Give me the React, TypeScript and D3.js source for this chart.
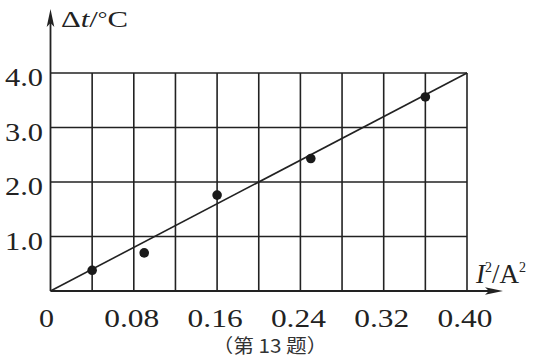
import React from "react";
import * as d3 from "d3";

const xTickValues = [0, 0.08, 0.16, 0.24, 0.32, 0.4];
const xTickLabels = ["0", "0.08", "0.16", "0.24", "0.32", "0.40"];
const yTickValues = [1.0, 2.0, 3.0, 4.0];
const yTickLabels = ["1.0", "2.0", "3.0", "4.0"];
const gridXValues = [0.04, 0.08, 0.12, 0.16, 0.2, 0.24, 0.28, 0.32, 0.36, 0.4];
const gridYValues = [1.0, 2.0, 3.0, 4.0];
const pointX = [0.04, 0.09, 0.16, 0.25, 0.36];
const pointY = [0.38, 0.7, 1.76, 2.43, 3.56];
const fitX = [0, 0.4];
const fitY = [0, 4.0];
const caption = "（第 13 题）";

export default function App() {
  const x = d3.scaleLinear().domain([0, 0.4]).range([50.5, 467]);
  const y = d3.scaleLinear().domain([0, 4]).range([291, 73]);
  const line = d3
    .line<number>()
    .x((d, i) => x(fitX[i]))
    .y((d, i) => y(d));
  const stroke = "#222";
  const serif = "'Liberation Serif', 'Times New Roman', serif";
  const x0 = x(0);
  const y0 = y(0);
  return (
    <svg
      width={536}
      height={360}
      style={{ position: "absolute", left: 0, top: 0, background: "#fff" }}
    >
      <rect width={536} height={360} fill="#fff" />
      {/* grid */}
      {gridXValues.map((v) => (
        <line key={"gx" + v} x1={x(v)} x2={x(v)} y1={y(0)} y2={y(4)} stroke={stroke} strokeWidth={1.6} />
      ))}
      {gridYValues.map((v) => (
        <line key={"gy" + v} x1={x(0)} x2={x(0.4)} y1={y(v)} y2={y(v)} stroke={stroke} strokeWidth={1.6} />
      ))}
      {/* axes */}
      <line x1={x0} x2={496} y1={y0} y2={y0} stroke={stroke} strokeWidth={1.8} />
      <path d={`M503,${y0} L485,${y0 - 3.8} L489,${y0} L485,${y0 + 3.8} Z`} fill={stroke} />
      <line x1={x0} x2={x0} y1={y0} y2={18} stroke={stroke} strokeWidth={1.8} />
      <path d={`M${x0},9 L${x0 - 3.8},27 L${x0},23 L${x0 + 3.8},27 Z`} fill={stroke} />
      {/* fit line */}
      <path d={line(fitY) || ""} fill="none" stroke={stroke} strokeWidth={1.6} />
      {/* points */}
      {pointX.map((px, i) => (
        <circle key={"p" + i} cx={x(px)} cy={y(pointY[i])} r={4.8} fill="#1a1a1a" />
      ))}
      {/* x tick labels */}
      {xTickValues.map((v, i) => (
        <text
          key={"xt" + v}
          x={x(v) - (i === 0 ? 4 : 2)}
          y={327}
          textAnchor="middle"
          fontFamily={serif}
          fontSize={25}
          fill="#222"
          textLength={xTickLabels[i].length === 1 ? 15 : 55}
          lengthAdjust="spacingAndGlyphs"
        >
          {xTickLabels[i]}
        </text>
      ))}
      {/* y tick labels */}
      {yTickValues.map((v, i) => (
        <text
          key={"yt" + v}
          x={43}
          y={y(v) + 13}
          textAnchor="end"
          fontFamily={serif}
          fontSize={26}
          fill="#222"
          textLength={38}
          lengthAdjust="spacingAndGlyphs"
        >
          {yTickLabels[i]}
        </text>
      ))}
      {/* y axis title */}
      <text x={61} y={27} fontFamily={serif} fontSize={23} fill="#222" textLength={67} lengthAdjust="spacingAndGlyphs">
        Δ<tspan fontStyle="italic">t</tspan>/<tspan fontSize={18} dy={-2}>°</tspan><tspan dy={2}>C</tspan>
      </text>
      {/* x axis title */}
      <text x={476} y={283} fontFamily={serif} fontSize={27} fill="#222">
        <tspan fontStyle="italic">I</tspan>
        <tspan fontSize={14} dy={-11}>2</tspan>
        <tspan dy={11}>/A</tspan>
        <tspan fontSize={14} dy={-11}>2</tspan>
      </text>
      {/* caption */}
      <text
        x={270}
        y={353}
        textAnchor="middle"
        fontFamily="'Noto Sans CJK SC', sans-serif"
        fontSize={19}
        fill="#333"
        textLength={115}
        lengthAdjust="spacingAndGlyphs"
      >
        {caption}
      </text>
    </svg>
  );
}
